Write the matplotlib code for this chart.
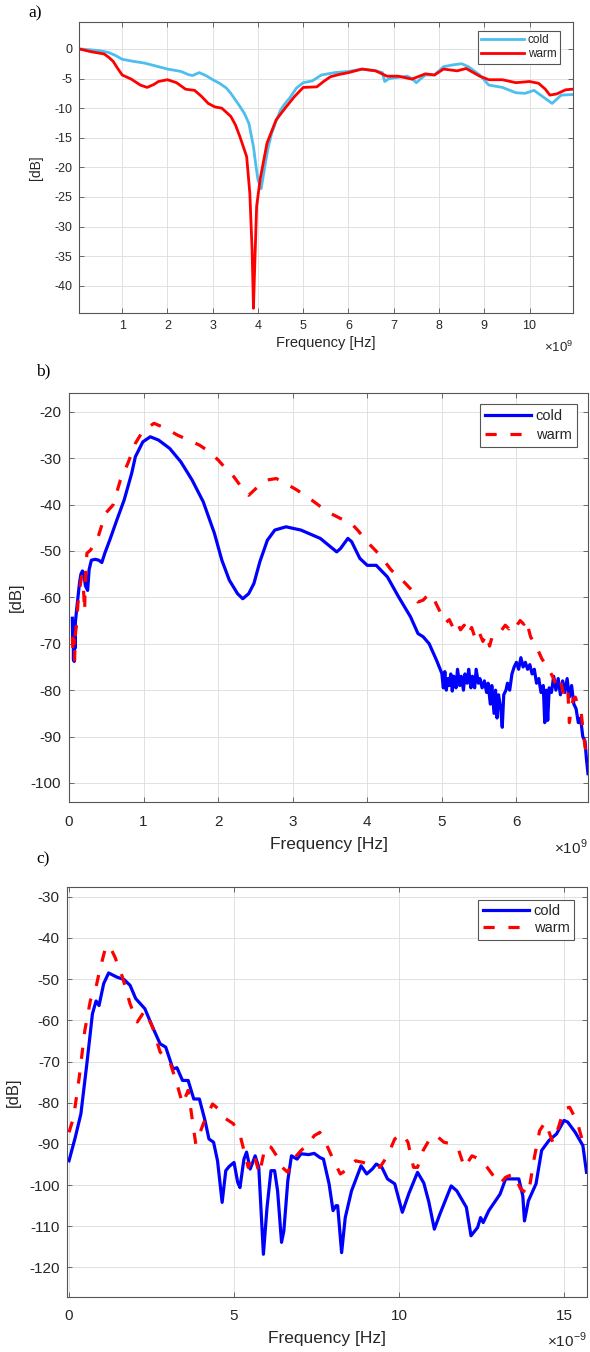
import matplotlib
matplotlib.use("Agg")
import matplotlib.pyplot as plt

plt.rcParams['font.family'] = ['Liberation Sans', 'DejaVu Sans']
plt.rcParams['axes.unicode_minus'] = False
plt.rcParams['mathtext.fontset'] = 'custom'
plt.rcParams['mathtext.rm'] = 'Liberation Sans'

# ---- panel a) : frequency in GHz (axis shows x10^9), dB
a_cold_f = [0.05, 0.3, 0.5, 0.7, 0.85, 1.0, 1.25, 1.5, 1.75, 2.0, 2.15, 2.3, 2.45, 2.55,
            2.7, 2.85, 3.0, 3.15, 3.3, 3.4, 3.5, 3.6, 3.7, 3.8, 3.9, 3.95, 4.0, 4.07,
            4.15, 4.22, 4.3, 4.4, 4.5, 4.6, 4.7, 4.85, 5.0, 5.2, 5.4, 5.7, 6.0, 6.3,
            6.6, 6.75, 6.8, 6.9, 7.1, 7.3, 7.4, 7.5, 7.6, 7.7, 7.9, 8.1, 8.3, 8.5,
            8.65, 8.9, 9.1, 9.4, 9.7, 9.9, 10.1, 10.3, 10.5, 10.7, 10.95]
a_cold_db = [0, -0.15, -0.3, -0.6, -1.1, -1.75, -2.1, -2.4, -2.9, -3.4, -3.6, -3.8,
             -4.3, -4.5, -4.0, -4.5, -5.2, -5.8, -6.6, -7.5, -8.6, -9.7, -10.9, -12.6,
             -16.5, -19.5, -22.1, -23.6, -19.9, -16.8, -14.3, -12.2, -10.3, -9.2,
             -8.3, -6.6, -5.7, -5.4, -4.4, -4.0, -3.8, -3.4, -3.7, -4.0, -5.5, -5.0,
             -4.8, -4.6, -5.0, -5.7, -5.0, -4.4, -4.4, -3.0, -2.7, -2.5, -3.0, -4.4,
             -6.1, -6.5, -7.4, -7.5, -7.0, -8.1, -9.2, -7.8, -7.7]
a_warm_f = [0.05, 0.3, 0.6, 0.7, 0.8, 0.9, 1.0, 1.2, 1.4, 1.55, 1.7, 1.8, 2.0, 2.2,
            2.4, 2.6, 2.75, 2.9, 3.05, 3.2, 3.4, 3.5, 3.6, 3.75, 3.82, 3.87, 3.9,
            3.93, 3.97, 4.05, 4.2, 4.4, 4.6, 4.8, 5.0, 5.3, 5.45, 5.6, 5.8, 6.0, 6.3,
            6.6, 6.85, 7.1, 7.4, 7.7, 7.9, 8.1, 8.4, 8.6, 8.9, 9.1, 9.4, 9.7, 10.0,
            10.2, 10.35, 10.45, 10.6, 10.8, 10.95]
a_warm_db = [0, -0.45, -0.85, -1.4, -2.1, -3.3, -4.4, -5.1, -6.1, -6.5, -6.0, -5.5,
             -5.2, -5.7, -6.8, -7.0, -8.0, -9.2, -9.8, -10.0, -11.4, -12.8, -14.8,
             -18.2, -24.4, -34, -43.8, -36.2, -26.6, -21.9, -15.9, -12, -10.0, -8.1,
             -6.5, -6.4, -5.5, -4.7, -4.3, -4.0, -3.4, -3.7, -4.6, -4.6, -5.1, -4.2,
             -4.4, -3.4, -3.7, -3.3, -4.6, -5.2, -5.2, -5.7, -5.5, -5.8, -6.8, -7.8,
             -7.6, -6.9, -6.8]

# ---- panel b) : frequency in GHz, dB
b_cold_f = [0.045, 0.05, 0.055, 0.06, 0.065, 0.07, 0.075, 0.08, 0.085, 0.1, 0.12, 0.14,
            0.16, 0.18, 0.2, 0.22, 0.25, 0.27, 0.3, 0.35, 0.4, 0.44, 0.48, 0.55, 0.64,
            0.74, 0.84, 0.89, 0.99, 1.09, 1.2, 1.35, 1.5, 1.65, 1.8, 1.95, 2.05, 2.15,
            2.26, 2.33, 2.41, 2.48, 2.56, 2.66, 2.76, 2.91, 3.11, 3.37, 3.59, 3.64,
            3.74, 3.79, 3.9, 4.0, 4.12, 4.27, 4.42, 4.58, 4.68, 4.75, 4.83, 4.93, 5.0,
            5.02, 5.04, 5.06, 5.08, 5.1, 5.12, 5.14, 5.16, 5.19, 5.21, 5.24, 5.26,
            5.29, 5.31, 5.34, 5.36, 5.39, 5.41, 5.44, 5.46, 5.49, 5.51, 5.54, 5.57,
            5.6, 5.62, 5.65, 5.67, 5.7, 5.72, 5.74, 5.76, 5.79, 5.81, 5.83, 5.86,
            5.88, 5.91, 5.94, 5.97, 6.0, 6.03, 6.06, 6.09, 6.12, 6.15, 6.18, 6.21,
            6.24, 6.27, 6.3, 6.33, 6.36, 6.38, 6.4, 6.42, 6.44, 6.47, 6.5, 6.53, 6.56,
            6.59, 6.62, 6.65, 6.68, 6.71, 6.74, 6.77, 6.8, 6.83, 6.86, 6.89, 6.92,
            6.94, 6.96]
b_cold_db = [-64.5, -70, -66, -73.5, -69, -73.8, -67, -71, -65.5, -63, -60, -57, -55,
             -54.3, -55, -57.5, -58.5, -54, -52, -51.8, -52, -52.5, -50.5, -47.5,
             -43.4, -39, -33.3, -29.7, -26.5, -25.4, -26.1, -27.9, -30.8, -34.7, -39.4,
             -46.2, -52, -56.3, -59.2, -60.3, -59.2, -57, -52.3, -47.7, -45.5, -44.8,
             -45.5, -47.3, -50.2, -49.5, -47.3, -48, -51.6, -53.1, -53.1, -55.6, -59.9,
             -64.2, -67.8, -68.5, -70, -73.6, -76.4,
             -79.5, -76, -80, -77.5, -79, -76.5, -80.2, -77, -79.5, -75.5, -79, -77,
             -80, -76.5, -78.5, -75.5, -79.5, -77, -79.5, -75.5, -78.5, -77.5, -79.5,
             -78, -80.5, -78.5, -83, -79, -85, -80, -86, -81, -84, -88, -81, -80,
             -78.5, -80, -76.5, -75, -74, -75.5, -73, -75, -74, -75.5, -74.5, -76.5,
             -75.5, -78.5, -77.5, -80.5, -79, -87, -80, -86.5, -79.5, -80.5, -77, -80,
             -77.5, -81, -78, -80.5, -77.5, -81.5, -79, -83, -84, -87, -86, -90, -91,
             -95, -98]
b_warm_f = [0.045, 0.055, 0.065, 0.075, 0.085, 0.1, 0.12, 0.15, 0.17, 0.19, 0.2, 0.21,
            0.215, 0.24, 0.29, 0.39, 0.49, 0.59, 0.69, 0.79, 0.89, 0.97, 1.04, 1.14,
            1.3, 1.45, 1.6, 1.75, 1.88, 2.0, 2.1, 2.21, 2.31, 2.41, 2.53, 2.66, 2.78,
            2.91, 3.06, 3.26, 3.47, 3.64, 3.77, 3.87, 4.02, 4.17, 4.32, 4.47, 4.6,
            4.68, 4.75, 4.83, 4.9, 5.0, 5.05, 5.1, 5.15, 5.2, 5.25, 5.3, 5.35, 5.4,
            5.45, 5.5, 5.55, 5.6, 5.64, 5.68, 5.74, 5.8, 5.85, 5.9, 5.95, 6.0, 6.05,
            6.1, 6.13, 6.19, 6.27, 6.34, 6.44, 6.49, 6.54, 6.59, 6.64, 6.69, 6.71,
            6.74, 6.76, 6.79, 6.87, 6.92, 6.97]
b_warm_db = [-68.5, -72, -69, -73.5, -68, -66, -61.3, -57.5, -55.5, -57, -60, -63, -58,
             -50.5, -49.8, -47, -41.9, -40.1, -34.7, -31.1, -26.8, -24.7, -23.6, -22.5,
             -23.6, -25, -26.1, -27.2, -28.6, -30.4, -32.2, -34, -36.2, -38, -36.2,
             -34.7, -34.4, -35.5, -36.9, -39.1, -41.6, -43, -43.8, -45.5, -48.4, -50.9,
             -54.1, -56.3, -58.5, -61, -60.6, -59.2, -60.6, -63.9, -65.5, -64.8, -66.5,
             -65.2, -67, -66, -68, -66.5, -69, -67.5, -69.5, -68, -70.5, -68.2, -67.5,
             -67.1, -66, -66.8, -65.5, -66.2, -65, -65.8, -64.8, -68.5, -70.7, -73.2,
             -75.7, -77.2, -79.3, -77.9, -81.5, -80, -87, -83.6, -82, -81.5, -85.1,
             -92.2, -95.9]

# ---- panel c) : x in units of 1e-9, dB
c_cold_t = [0, 0.19, 0.36, 0.54, 0.71, 0.82, 0.91, 1.05, 1.2, 1.45, 1.67, 1.85, 2.02,
            2.3, 2.53, 2.76, 2.93, 3.15, 3.27, 3.44, 3.61, 3.78, 3.95, 4.12, 4.24,
            4.38, 4.5, 4.64, 4.75, 4.85, 5.0, 5.11, 5.18, 5.3, 5.38, 5.49, 5.64, 5.75,
            5.89, 6.0, 6.12, 6.23, 6.32, 6.44, 6.51, 6.63, 6.74, 6.91, 7.03, 7.26,
            7.43, 7.6, 7.71, 7.88, 8.0, 8.09, 8.14, 8.26, 8.37, 8.56, 8.85, 9.02, 9.19,
            9.31, 9.48, 9.65, 9.87, 10.1, 10.3, 10.56, 10.75, 10.9, 11.07, 11.24,
            11.58, 11.75, 12.04, 12.18, 12.38, 12.47, 12.55, 12.72, 13.06, 13.23,
            13.63, 13.75, 13.8, 13.92, 14.15, 14.32, 14.54, 14.77, 15.0, 15.11, 15.34,
            15.57, 15.68]
c_cold_db = [-94.1, -88.4, -82.7, -70.6, -58.4, -55.3, -56.4, -51.1, -48.5, -49.5,
             -50.1, -51.5, -54.7, -57.2, -61.6, -65.7, -66.5, -71.8, -71.5, -74.6,
             -74.6, -79.1, -79.1, -84.3, -88.8, -89.6, -94.1, -104.2, -96.5, -95.5,
             -94.5, -99.3, -100.6, -93.7, -92, -96.1, -92.9, -95.7, -116.8, -105.4,
             -96.5, -96.5, -101.4, -113.9, -111.1, -98.9, -92.9, -93.7, -92.4, -92.6,
             -92.3, -93.3, -93.7, -99.7, -106.2, -105, -105, -116.4, -107.9, -101.4,
             -95.3, -97.3, -96.1, -94.9, -95.7, -98.5, -99.7, -106.6, -102, -96.9,
             -99.5, -104, -110.7, -107, -100.2, -101.4, -105.4, -112.3, -110.3, -107.9,
             -109.1, -106.2, -102.2, -98.5, -98.5, -102.6, -108.7, -103.8, -99.7, -91.6,
             -89.2, -87.6, -84.3, -84.7, -87.2, -90.4, -96.9]
c_warm_t = [0, 0.14, 0.31, 0.48, 0.65, 0.82, 0.93, 1.1, 1.22, 1.39, 1.62, 1.85, 2.07,
            2.3, 2.53, 2.76, 3.04, 3.27, 3.44, 3.61, 3.84, 4.07, 4.35, 4.58, 4.75,
            4.98, 5.2, 5.43, 5.6, 5.77, 5.95, 6.12, 6.29, 6.46, 6.63, 6.8, 7.03, 7.26,
            7.43, 7.6, 7.77, 8.0, 8.22, 8.45, 8.68, 8.91, 9.19, 9.42, 9.65, 9.87, 10.1,
            10.27, 10.44, 10.56, 10.73, 10.96, 11.13, 11.36, 11.58, 11.81, 11.98,
            12.21, 12.44, 12.67, 12.89, 13.06, 13.23, 13.46, 13.69, 13.92, 14.09,
            14.26, 14.43, 14.66, 14.83, 15.0, 15.17, 15.4, 15.57, 15.68]
c_warm_db = [-87.2, -83.5, -73.8, -62.4, -55.1, -51.9, -47.8, -42.6, -41.8, -44.6,
             -49.5, -56, -60.4, -57.6, -61.6, -67.7, -69.7, -75.4, -80.3, -77, -90,
             -85.1, -80.3, -81.9, -83.9, -85.1, -88.4, -95.7, -92.4, -97.3, -90.4,
             -90.8, -92.9, -95.7, -96.9, -93.7, -91.6, -90, -88, -87.2, -89.6, -93.7,
             -97.3, -96.1, -94.1, -94.5, -95.3, -95.7, -92.9, -88.8, -87.6, -89.6,
             -95.7, -95.7, -91.6, -88.4, -88, -89.6, -90, -91.6, -95.7, -92.9, -93.7,
             -95.7, -98.1, -99.7, -98.1, -97.3, -101, -102.2, -93.7, -86.8, -84.7,
             -89.6, -86, -81.5, -81.1, -84.7, -89.6, -90]

W, H = 590, 1352
TXT = '#262626'


def fx(px):
    return px / W


def fy(py):
    return 1 - py / H


def make_axes(fig, l, t, r, b):
    return fig.add_axes([l / W, 1 - b / H, (r - l) / W, (b - t) / H])


def style(ax, fs, xpad, ypad):
    ax.grid(True, color='#dcdcdc', linewidth=0.6)
    ax.set_axisbelow(True)
    for s in ax.spines.values():
        s.set_color('#555555')
        s.set_linewidth(0.8)
    ax.tick_params(direction='in', top=True, right=True, length=3.5, width=0.6,
                   color='#555555', labelsize=fs, labelcolor=TXT)
    ax.tick_params(axis='x', pad=xpad)
    ax.tick_params(axis='y', pad=ypad)


def legend(ax, x, y, fs, hl, ls, bp):
    leg = ax.legend(loc='upper right', bbox_to_anchor=(fx(x), fy(y)),
                    bbox_transform=ax.figure.transFigure, borderaxespad=0,
                    fontsize=fs, handlelength=hl, handletextpad=0.35,
                    labelspacing=ls, borderpad=bp, fancybox=False, framealpha=1)
    leg.get_frame().set_edgecolor('#555555')
    leg.get_frame().set_linewidth(0.8)
    for t in leg.get_texts():
        t.set_color(TXT)


fig = plt.figure(figsize=(5.9, 13.52), dpi=100)

# a)
ax1 = make_axes(fig, 79, 21.7, 572.5, 313.3)
ax1.plot(a_cold_f, a_cold_db, color='#4DBEEE', lw=2.0, label='cold')
ax1.plot(a_warm_f, a_warm_db, color='#FF0000', lw=2.0, label='warm')
ax1.set_xlim(0.045, 10.95)
ax1.set_ylim(-44.65, 4.6)
ax1.set_xticks(range(1, 11))
ax1.set_yticks(range(-40, 1, 5))
style(ax1, 9, 5.0, 5.0)
legend(ax1, 560, 30.7, 8.5, 3.6, 0.15, 0.3)
fig.text(fx(325.5), fy(343), 'Frequency [Hz]', ha='center', va='center',
         fontsize=10.5, color=TXT)
fig.text(fx(36.5), fy(167.5), '[dB]', ha='center', va='center', rotation=90,
         fontsize=10, color=TXT)
fig.text(fx(573), fy(347), r'$\times10^{9}$', ha='right', va='center',
         fontsize=9.5, color=TXT)
fig.text(fx(28), fy(13), 'a)', ha='left', va='center', fontsize=12.5,
         family='Liberation Serif')

# b)
ax2 = make_axes(fig, 69, 392.7, 588, 802)
ax2.plot(b_cold_f, b_cold_db, color='#0000FF', lw=2.3, label='cold')
ax2.plot(b_warm_f, b_warm_db, color='#FF0000', lw=2.3, ls=(0, (3.5, 4.3)),
         label='warm')
ax2.set_xlim(0, 6.96)
ax2.set_ylim(-104.1, -15.9)
ax2.set_xticks(range(0, 7))
ax2.set_yticks(range(-100, -19, 10))
style(ax2, 11, 9.0, 5.5)
legend(ax2, 576.7, 404.3, 10.5, 3.15, 0.3, 0.35)
fig.text(fx(329), fy(845), 'Frequency [Hz]', ha='center', va='center',
         fontsize=12.5, color=TXT)
fig.text(fx(16), fy(597), '[dB]', ha='center', va='center', rotation=90,
         fontsize=12, color=TXT)
fig.text(fx(588), fy(847), r'$\times10^{9}$', ha='right', va='center',
         fontsize=11, color=TXT)
fig.text(fx(36), fy(371), 'b)', ha='left', va='center', fontsize=12.5,
         family='Liberation Serif')

# c)
ax3 = make_axes(fig, 66.7, 887.3, 586.5, 1296.7)
ax3.plot(c_cold_t, c_cold_db, color='#0000FF', lw=2.3, label='cold')
ax3.plot(c_warm_t, c_warm_db, color='#FF0000', lw=2.3, ls=(0, (3.5, 4.3)),
         label='warm')
ax3.set_xlim(-0.07, 15.68)
ax3.set_ylim(-127.1, -27.7)
ax3.set_xticks([0, 5, 10, 15])
ax3.set_yticks(range(-120, -29, 10))
style(ax3, 11, 9.0, 5.0)
legend(ax3, 574, 900, 10.5, 3.15, 0.2, 0.3)
fig.text(fx(327), fy(1338), 'Frequency [Hz]', ha='center', va='center',
         fontsize=12.5, color=TXT)
fig.text(fx(13), fy(1092), '[dB]', ha='center', va='center', rotation=90,
         fontsize=12, color=TXT)
fig.text(fx(587), fy(1340), r'$\times10^{-9}$', ha='right', va='center',
         fontsize=11, color=TXT)
fig.text(fx(36), fy(859), 'c)', ha='left', va='center', fontsize=12.5,
         family='Liberation Serif')

fig.savefig('out.png', dpi=100)
